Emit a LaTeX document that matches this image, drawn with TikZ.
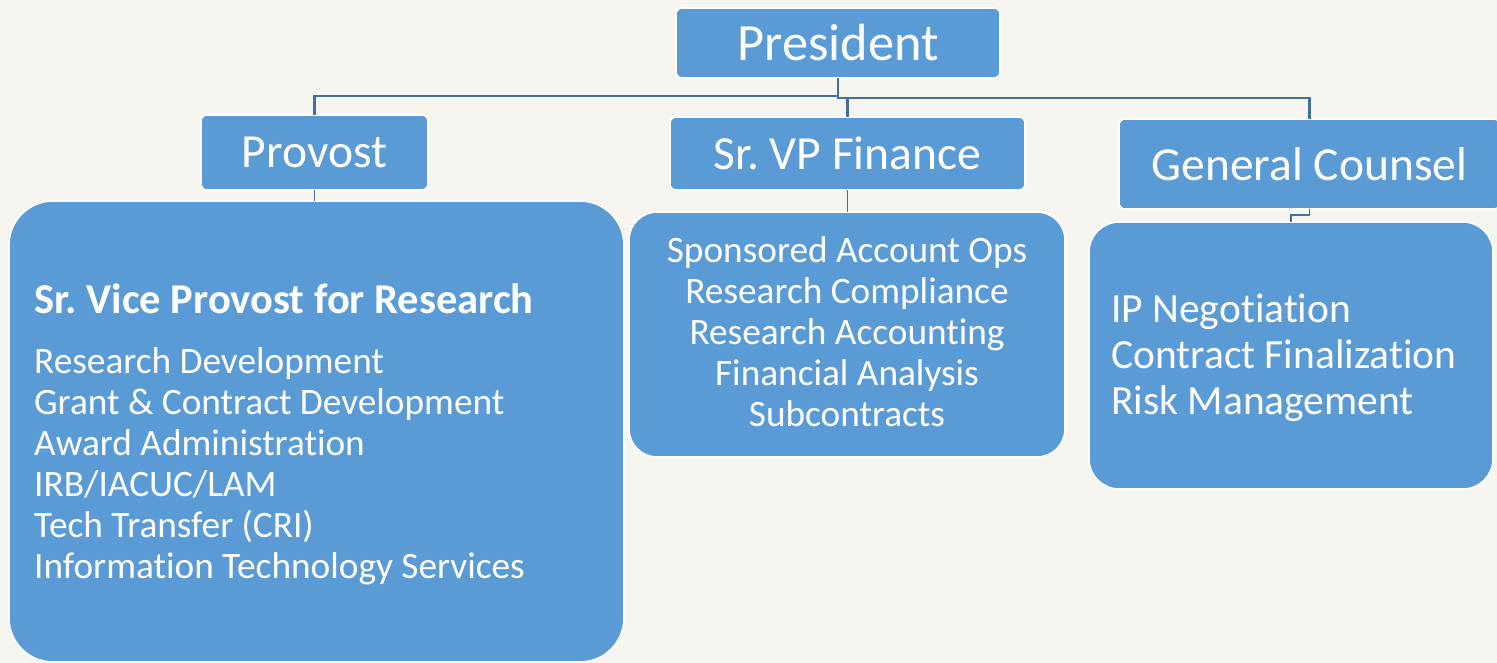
\documentclass[tikz,border=0pt]{standalone}
\usepackage{fontspec}
\setmainfont[RawFeature={-liga;-clig;-calt;-dlig}]{Carlito}
\frenchspacing
% a "t" followed by "i" with no ligature between them
\newcommand\tI{t\kern0pt i}
\definecolor{pagebg}{HTML}{F6F5F0}
\definecolor{boxblue}{HTML}{5B9BD5}
\definecolor{linkblue}{HTML}{41719C}
\begin{document}
\begin{tikzpicture}[x=1pt,y=-1pt,
  box/.style={draw=white, line width=1.6pt, fill=boxblue, text=white,
    inner sep=0pt, outer sep=0pt, rounded corners=#1},
  box/.default=6pt,
  title/.style={font=\fontsize{47.5}{54}\selectfont},
  conn/.style={draw=linkblue, line width=2.2pt},
  item/.style={text=white, inner sep=0pt, font=\fontsize{37.3}{41}\selectfont},
  bigitem/.style={text=white, inner sep=0pt, font=\fontsize{41.5}{46}\selectfont}]
\fill[pagebg] (0,0) rectangle (1497,663);
\useasboundingbox (0,0) rectangle (1497,663);

% bus coordinates for the top-level connectors
\coordinate (busL) at (0,96);
\coordinate (busR) at (0,98);

% top-level boxes
\node[box, minimum width=324pt, minimum height=70pt,
  font=\fontsize{52.3}{60}\selectfont] (pres) at (838,43) {President};
\node[box, title, minimum width=227pt, minimum height=75pt] (provost) at (314.5,152.5) {Provost};
\node[box, title, minimum width=355pt, minimum height=73pt] (finance) at (847.5,153.5) {Sr. VP Finance};
\node[box, title, minimum width=381pt, minimum height=90pt] (counsel) at (1309.5,164) {General Counsel};

% unit boxes
\node[box=44pt, minimum width=615pt, minimum height=461pt] (rbox) at (316.5,431.5) {};
\node[box=28pt, minimum width=436pt, minimum height=245pt] (fbox) at (847,334.5) {};
\node[box=30pt, minimum width=404pt, minimum height=267pt] (gbox) at (1291,355.5) {};

% connectors
\draw[conn] (pres.south) -- (pres.south |- busL) -| (provost.north);
\draw[conn] (pres.south |- busL) -- (pres.south |- busR) -| (finance.north);
\draw[conn] (finance.north |- busR) -| (counsel.north);
\draw[conn, line width=1.4pt] (provost.south) -- (provost.south |- rbox.north);
\draw[conn, line width=1.4pt] (finance.south) -- (finance.south |- fbox.north);
\draw[conn, line width=1.4pt] (counsel.south) -- ++(0,6) -| (gbox.north);

% research office
\node[anchor=base west, text=white, inner sep=0pt,
  font=\bfseries\fontsize{42.5}{48}\selectfont] (svpr) at (34,313) {Sr. Vice Provost for Research};
\foreach \t [count=\i] in {{Research Development},{Grant \& Contract Development},
    {Award Administra\tI on},{IRB/IACUC/LAM},{Tech Transfer (CRI)},
    {Informa\tI on Technology Services}}
  \node[item, anchor=base west] (r\i) at (34,{373+41*(\i-1)}) {\t};

% finance units
\foreach \t [count=\i] in {{Sponsored Account Ops},{Research Compliance},
    {Research Accoun\tI ng},{Financial Analysis},{Subcontracts}}
  \node[item, anchor=base] (f\i) at (847,{262+41*(\i-1)}) {\t};

% counsel units
\foreach \t [count=\i] in {{IP Nego\tI a\tI on},{Contract Finaliza\tI on},{Risk Management}}
  \node[bigitem, anchor=base west] (g\i) at (1111,{322+46*(\i-1)}) {\t};
\end{tikzpicture}
\end{document}
